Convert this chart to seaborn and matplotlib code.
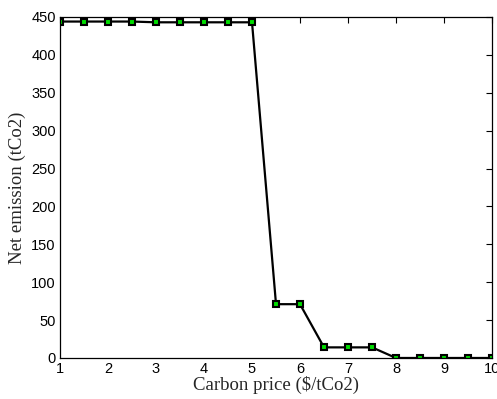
import numpy as np
import pandas as pd
import matplotlib
matplotlib.use("Agg")
import matplotlib.pyplot as plt
import seaborn as sns

carbon_price = [1, 1.5, 2, 2.5, 3, 3.5, 4, 4.5, 5, 5.5, 6, 6.5, 7, 7.5, 8, 8.5, 9, 9.5, 10]
net_emission = [444, 444, 444, 444, 443, 443, 443, 443, 443, 71, 71, 14, 14, 14, 0, 0, 0, 0, 0]

df = pd.DataFrame({"price": carbon_price, "emission": net_emission})

sns.set_style("white")
plt.rcParams["font.family"] = ["Liberation Sans", "DejaVu Sans"]

fig = plt.figure(figsize=(4.97, 3.99), dpi=100)
ax = fig.add_axes([0.1207, 0.1028, 0.8693, 0.8546])

sns.lineplot(data=df, x="price", y="emission", ax=ax, color="black", linewidth=1.6,
             marker="s", markersize=3.8, markerfacecolor="#00dd00",
             markeredgecolor="black", markeredgewidth=1.5)

ax.set_xlim(1, 10)
ax.set_ylim(0, 450)
ax.set_xticks(range(1, 11))
ax.set_yticks(range(0, 451, 50))
ax.tick_params(direction="in", top=True, right=True, length=4, labelsize=10.5,
               colors="black", width=0.8, pad=3)
for s in ax.spines.values():
    s.set_color("black")
    s.set_linewidth(0.9)

ax.set_xlabel("Carbon price ($/tCo2)", family="Liberation Serif", fontsize=13.5, labelpad=0)
ax.set_ylabel("Net emission (tCo2)", family="Liberation Serif", fontsize=13.5, labelpad=4)

fig.savefig("out.png", dpi=100)
